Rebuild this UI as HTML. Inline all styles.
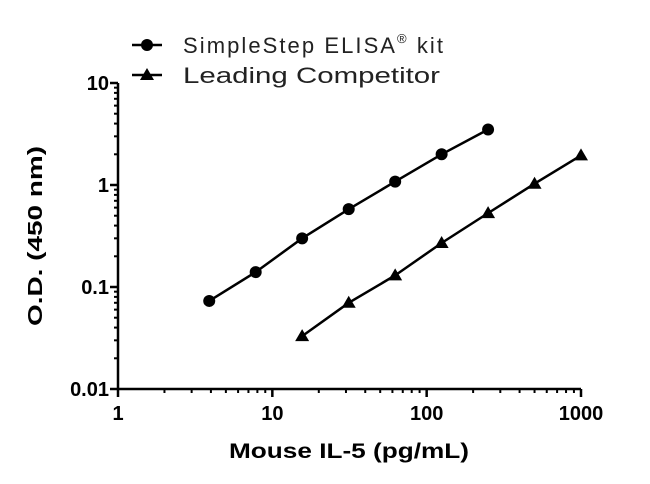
<!DOCTYPE html>
<html><head><meta charset="utf-8"><style>
body{margin:0;background:#fff;}
svg{display:block;font-family:"Liberation Sans",sans-serif;}
</style></head><body>
<svg id="chart" width="650" height="484">
<g id="axes"></g><g id="series"></g>
<g>
 <g>
  <line x1="132" y1="45" x2="162" y2="45" stroke="#000" stroke-width="2.5"/>
  <circle cx="147" cy="45" r="6" fill="#000"/>
  <text x="183" y="53" font-size="22" fill="#222" textLength="260" lengthAdjust="spacing">SimpleStep ELISA<tspan font-size="13" dy="-10">®</tspan><tspan dy="10"> kit</tspan></text>
 </g>
 <g>
  <line x1="132" y1="75" x2="162" y2="75" stroke="#000" stroke-width="2.5"/>
  <polygon points="147,68 154,80 140,80" fill="#000"/>
  <text x="183" y="83" font-size="22" fill="#222" textLength="257" lengthAdjust="spacingAndGlyphs">Leading Competitor</text>
 </g>
</g>
<text x="349" y="458" font-size="21" font-weight="bold" text-anchor="middle" textLength="240" lengthAdjust="spacingAndGlyphs">Mouse IL-5 (pg/mL)</text>
<text transform="translate(42,236) rotate(-90)" font-size="20" font-weight="bold" text-anchor="middle" textLength="180" lengthAdjust="spacingAndGlyphs">O.D. (450 nm)</text>
</svg>
<script>
const xTicks=[1,10,100,1000];
const xTickLabels=["1","10","100","1000"];
const yTicks=[0.01,0.1,1,10];
const yTickLabels=["0.01","0.1","1","10"];
const simpleX=[3.9,7.8,15.6,31.25,62.5,125,250];
const simpleY=[0.073,0.14,0.30,0.58,1.08,2.0,3.5];
const compX=[15.6,31.25,62.5,125,250,500,1000];
const compY=[0.033,0.07,0.13,0.27,0.53,1.03,1.95];
const X0=118,X1=581,Y0=389,Y1=83;
const sx=v=>X0+(Math.log10(v))/3*(X1-X0);
const sy=v=>Y0-(Math.log10(v)+2)/3*(Y0-Y1);
const NS="http://www.w3.org/2000/svg";
function mk(tag,attrs,parent){const e=document.createElementNS(NS,tag);for(const k in attrs)e.setAttribute(k,attrs[k]);parent.appendChild(e);return e;}
const ax=document.getElementById('axes'),se=document.getElementById('series');
let l=mk('line',{x1:X0,y1:Y0,x2:X1,y2:Y0,stroke:'#000','stroke-width':2.5},ax);


l=mk('line',{x1:X0,y1:Y0,x2:X0,y2:Y1,stroke:'#000','stroke-width':2.5},ax);


for(let d=0;d<3;d++)for(let m=2;m<=9;m++){
 const v=Math.pow(10,d)*m;
 mk('line',{x1:sx(v),y1:Y0,x2:sx(v),y2:Y0+4,stroke:'#000','stroke-width':2},ax);
 const w=Math.pow(10,d-2)*m;
 mk('line',{x1:X0,y1:sy(w),x2:X0-4,y2:sy(w),stroke:'#000','stroke-width':2},ax);
}
xTicks.forEach((v,i)=>{
 mk('line',{x1:sx(v),y1:Y0,x2:sx(v),y2:Y0+8,stroke:'#000','stroke-width':2.5},ax);
 const t=mk('text',{x:sx(v),y:Y0+31,'font-size':20,'font-weight':'bold','text-anchor':'middle'},ax);
 t.textContent=xTickLabels[i];
 
 
});
yTicks.forEach((v,i)=>{
 mk('line',{x1:X0,y1:sy(v),x2:X0-8,y2:sy(v),stroke:'#000','stroke-width':2.5},ax);
 const t=mk('text',{x:X0-9,y:sy(v)+7,'font-size':20,'font-weight':'bold','text-anchor':'end'},ax);
 t.textContent=yTickLabels[i];
 
 
});
function series(xs,ys,shape,name){
 const p=mk('polyline',{points:xs.map((x,i)=>sx(x)+','+sy(ys[i])).join(' '),fill:'none',stroke:'#000','stroke-width':2.5},se);
 
 
 xs.forEach((x,i)=>{
  const cx=sx(x),cy=sy(ys[i]);let e;
  if(shape==='c')e=mk('circle',{cx:cx,cy:cy,r:6,fill:'#000'},se);
  else e=mk('polygon',{points:`${cx},${cy-7} ${cx+7},${cy+5} ${cx-7},${cy+5}`,fill:'#000'},se);
  
  
 });
}
series(simpleX,simpleY,'c','simplestep');
series(compX,compY,'t','competitor');
</script>
</body></html>
